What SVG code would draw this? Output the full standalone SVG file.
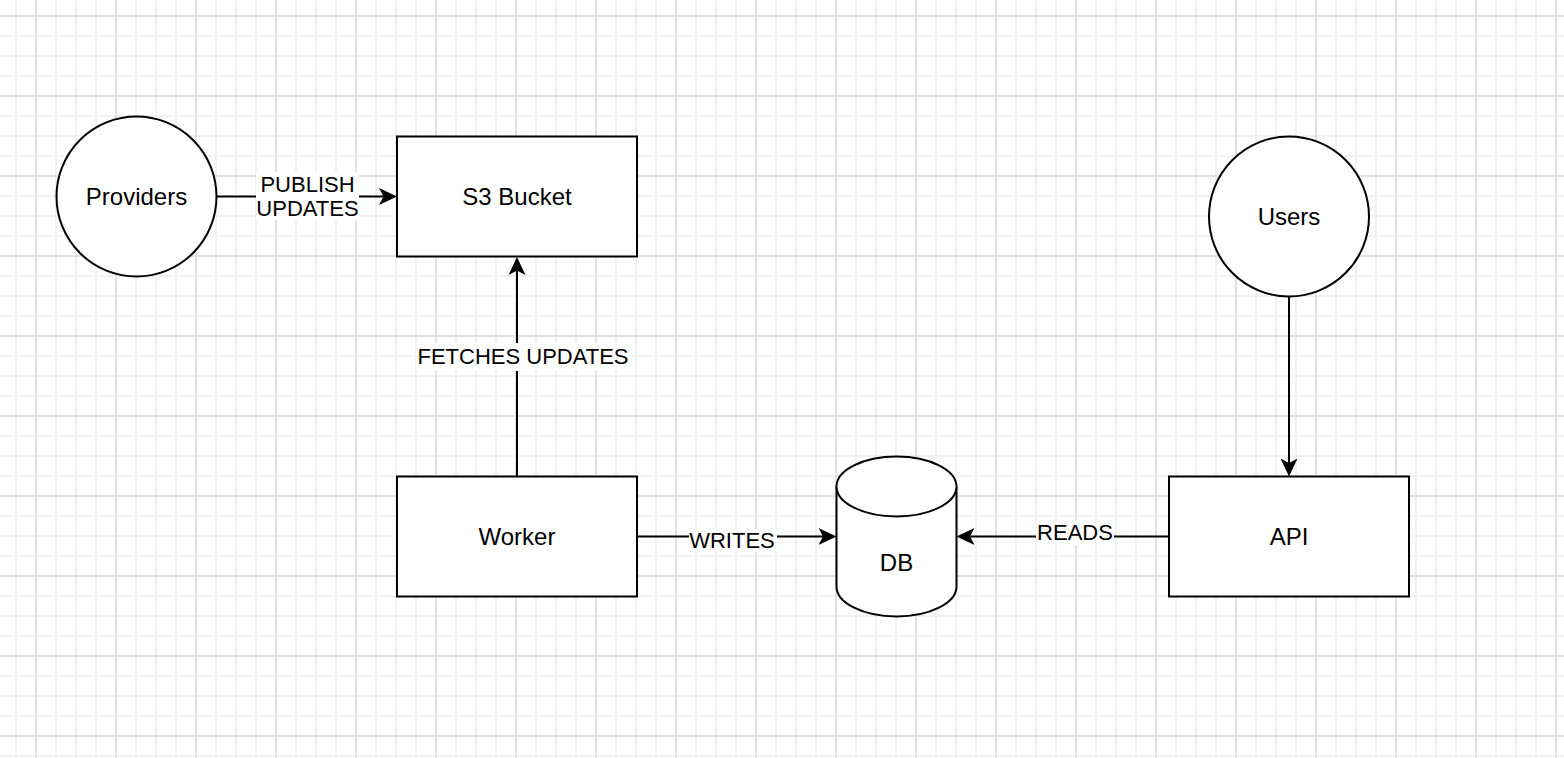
<svg xmlns="http://www.w3.org/2000/svg" width="1564" height="758" viewBox="0 0 1564 758">
  <style>
    .shape { fill: #ffffff; stroke: #000000; stroke-width: 2; }
    .node-text { font-family: "Liberation Sans", Arial, Helvetica, sans-serif; font-size: 24px; fill: #000000; text-anchor: middle; }
    .edge { fill: none; stroke: #000000; stroke-width: 2; }
    .edge-label { font-family: "Liberation Sans", Arial, Helvetica, sans-serif; font-size: 22px; fill: #000000; text-anchor: middle; }
    .label-bg { fill: #ffffff; stroke: none; }
  </style>
  <defs>
    <pattern id="gridMinor" patternUnits="userSpaceOnUse" x="6" y="6" width="20" height="20">
      <path d="M10,0 V20 M0,10 H20" fill="none" stroke="#f1f1f1" stroke-width="2"/>
    </pattern>
    <pattern id="gridMajor" patternUnits="userSpaceOnUse" x="26" y="6" width="80" height="80">
      <path d="M10,0 V80 M0,10 H80" fill="none" stroke="#d3d3d3" stroke-width="1"/>
    </pattern>
    <marker id="arrow" markerUnits="userSpaceOnUse" viewBox="0 0 18 17" refX="4.5" refY="8.5" markerWidth="18" markerHeight="17" orient="auto">
      <path d="M0,0 L18,8.5 L0,17 L4.5,8.5 Z" fill="#000000"/>
    </marker>
  </defs>

  <g id="background">
    <rect x="0" y="0" width="1564" height="758" fill="#ffffff"/>
    <rect x="0" y="0" width="1564" height="758" fill="url(#gridMinor)"/>
    <rect x="0" y="0" width="1564" height="758" fill="url(#gridMajor)"/>
  </g>

  <g id="connectors">
    <g id="edge-providers-s3">
      <path class="edge" d="M216.5,196.5 H383.5" marker-end="url(#arrow)"/>
      <rect class="label-bg" x="256" y="172" width="103" height="48"/>
      <text class="edge-label" x="307.5" y="191.5">PUBLISH</text>
      <text class="edge-label" x="307.5" y="216">UPDATES</text>
    </g>
    <g id="edge-worker-s3">
      <path class="edge" d="M517,476.5 V270.5" marker-end="url(#arrow)"/>
      <rect class="label-bg" x="416" y="343" width="214" height="28"/>
      <text class="edge-label" x="523" y="363.5">FETCHES UPDATES</text>
    </g>
    <g id="edge-worker-db">
      <path class="edge" d="M637,536.5 H823" marker-end="url(#arrow)"/>
      <rect class="label-bg" x="689" y="529" width="88" height="23"/>
      <text class="edge-label" x="732" y="548">WRITES</text>
    </g>
    <g id="edge-api-db">
      <path class="edge" d="M1169,536.5 H970" marker-end="url(#arrow)"/>
      <rect class="label-bg" x="1036" y="521" width="78" height="24"/>
      <text class="edge-label" x="1075" y="540">READS</text>
    </g>
    <g id="edge-users-api">
      <path class="edge" d="M1289,296.5 V463" marker-end="url(#arrow)"/>
    </g>
  </g>

  <g id="node-providers">
    <circle class="shape" cx="136.5" cy="196.5" r="80"/>
    <text class="node-text" x="136.5" y="205">Providers</text>
  </g>

  <g id="node-s3">
    <rect class="shape" x="397" y="136.5" width="240" height="120"/>
    <text class="node-text" x="517" y="205">S3 Bucket</text>
  </g>

  <g id="node-users">
    <circle class="shape" cx="1289" cy="216.5" r="80"/>
    <text class="node-text" x="1289" y="225">Users</text>
  </g>

  <g id="node-worker">
    <rect class="shape" x="397" y="476.5" width="240" height="120"/>
    <text class="node-text" x="517" y="545">Worker</text>
  </g>

  <g id="node-db">
    <path class="shape" d="M836.5,486.5 A60,30 0 0 1 956.5,486.5 L956.5,586.5 A60,30 0 0 1 836.5,586.5 Z"/>
    <path class="shape" fill="none" d="M836.5,486.5 A60,30 0 0 0 956.5,486.5"/>
    <text class="node-text" x="896.5" y="571">DB</text>
  </g>

  <g id="node-api">
    <rect class="shape" x="1169" y="476.5" width="240" height="120"/>
    <text class="node-text" x="1289" y="545">API</text>
  </g>
</svg>
